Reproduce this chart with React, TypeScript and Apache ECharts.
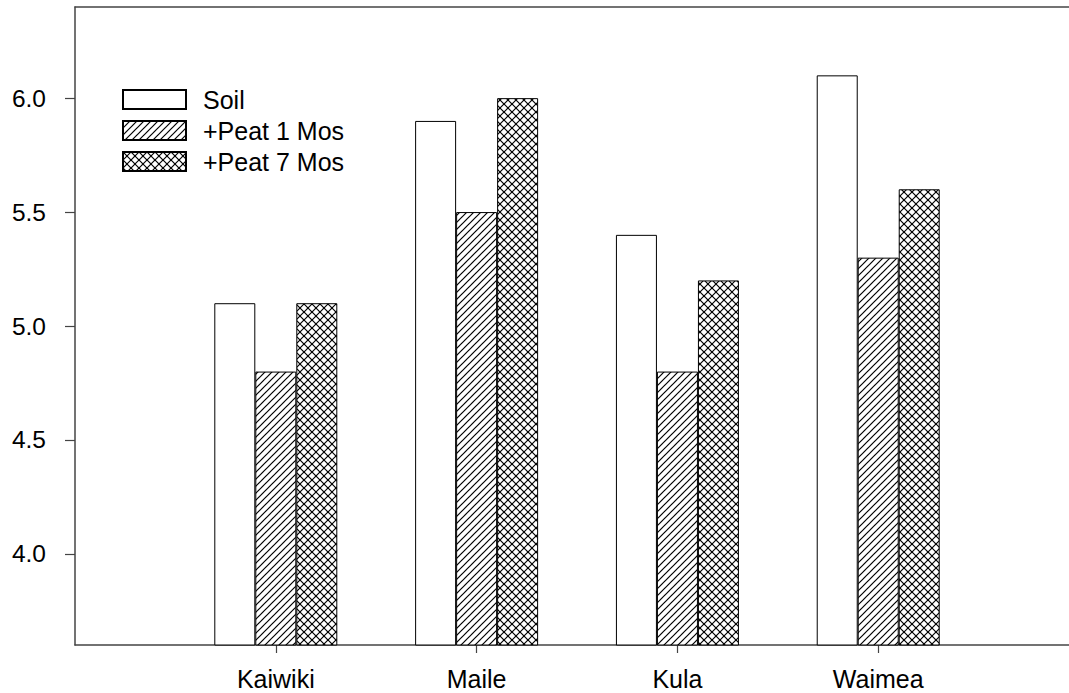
import React, { useEffect, useRef } from "react";
import * as echarts from "echarts";

const categories = ["Kaiwiki", "Maile", "Kula", "Waimea"];
const categoryPositions = [1, 2, 3, 4];
const seriesNames = ["Soil", "+Peat 1 Mos", "+Peat 7 Mos"];
const soil = [5.1, 5.9, 5.4, 6.1];
const peat1 = [4.8, 5.5, 4.8, 5.3];
const peat7 = [5.1, 6.0, 5.2, 5.6];
const yTicks = [4.0, 4.5, 5.0, 5.5, 6.0];

function makeTile(kind: "hatch" | "cross", s: number) {
  const c = document.createElement("canvas");
  c.width = s;
  c.height = s;
  const ctx = c.getContext("2d")!;
  ctx.fillStyle = "#fff";
  ctx.fillRect(0, 0, s, s);
  ctx.strokeStyle = "#000";
  ctx.lineWidth = 1.2;
  const seg = (x1: number, y1: number, x2: number, y2: number) => {
    ctx.beginPath();
    ctx.moveTo(x1, y1);
    ctx.lineTo(x2, y2);
    ctx.stroke();
  };
  seg(-1, s + 1, s + 1, -1);
  seg(-1, 1, 1, -1);
  seg(s - 1, s + 1, s + 1, s - 1);
  if (kind === "cross") {
    seg(-1, -1, s + 1, s + 1);
    seg(s - 1, -1, s + 1, 1);
    seg(-1, s - 1, 1, s + 1);
  }
  return c;
}

export default function App() {
  const ref = useRef<HTMLDivElement>(null);
  useEffect(() => {
    if (!ref.current) return;
    const chart = echarts.init(ref.current, null, { renderer: "svg" });
    const hatch = makeTile("hatch", 7);
    const cross = makeTile("cross", 8);
    const fills: any[] = [
      "#fff",
      { image: hatch, repeat: "repeat", imageWidth: 7, imageHeight: 7 },
      { image: cross, repeat: "repeat", imageWidth: 8, imageHeight: 8 },
    ];
    const datasets = [soil, peat1, peat7];
    const font = "'Liberation Sans', Arial, sans-serif";
    chart.setOption({
      animation: false,
      grid: { left: 75, right: 0, top: 7, bottom: 48 },
      legend: {
        left: 117,
        top: 82,
        orient: "vertical",
        itemWidth: 63,
        itemHeight: 19,
        itemGap: 6,
        icon: "rect",
        data: seriesNames,
        textStyle: {
          fontFamily: font,
          fontSize: 25,
          color: "#000",
          padding: [0, 0, 0, 12],
        },
        selectedMode: false,
      },
      xAxis: [
        {
          type: "value",
          min: 0,
          max: 4.95,
          splitLine: { show: false },
          axisLine: { show: true, lineStyle: { color: "#444", width: 1.5 } },
          axisTick: {
            show: true,
            length: 8,
            customValues: categoryPositions,
            lineStyle: { color: "#444", width: 1.2 },
          },
          axisLabel: {
            customValues: categoryPositions,
            formatter: (v: number) => categories[Math.round(v) - 1] ?? "",
            fontFamily: font,
            fontSize: 25,
            color: "#000",
            margin: 21,
          },
        },
        {
          type: "value",
          position: "top",
          min: 0,
          max: 4.95,
          splitLine: { show: false },
          axisLine: { show: true, lineStyle: { color: "#444", width: 1.5 } },
          axisTick: { show: false },
          axisLabel: { show: false },
        },
      ],
      yAxis: {
        type: "value",
        min: 3.6,
        max: 6.4,
        splitLine: { show: false },
        axisLine: { show: true, lineStyle: { color: "#444", width: 1.5 } },
        axisTick: {
          show: true,
          length: 10,
          customValues: yTicks,
          lineStyle: { color: "#444", width: 1.2 },
        },
        axisLabel: {
          customValues: yTicks,
          formatter: (v: number) => v.toFixed(1),
          fontFamily: font,
          fontSize: 24.5,
          color: "#000",
          margin: 29,
        },
      },
      series: seriesNames.map((name, i) => ({
        name,
        type: "bar",
        xAxisIndex: 0,
        barWidth: 41,
        barGap: "0%",
        itemStyle: { color: fills[i], borderColor: "#000", borderWidth: 1 },
        data: categoryPositions.map((x, j) => [x, datasets[i][j]]),
      })),
    });
    return () => chart.dispose();
  }, []);
  return (
    <div
      ref={ref}
      style={{ position: "fixed", left: 0, top: 0, width: 1069, height: 693, background: "#fff" }}
    />
  );
}
